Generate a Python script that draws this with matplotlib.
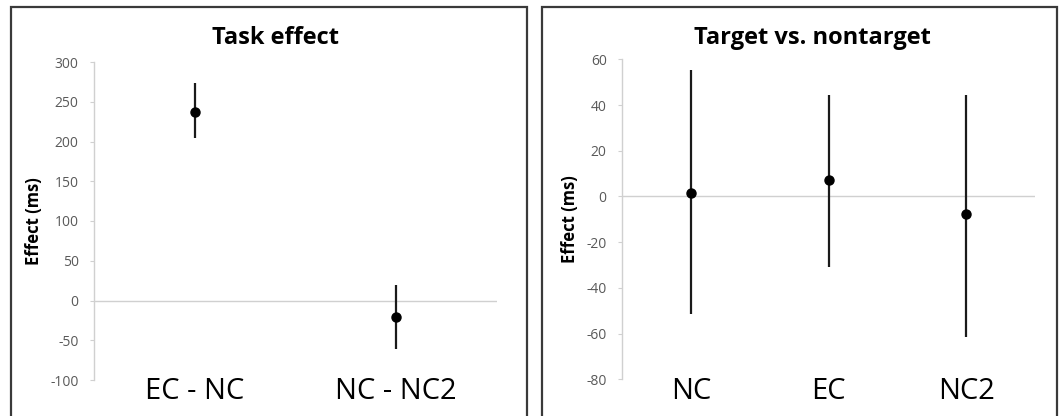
import matplotlib
matplotlib.use("Agg")
import matplotlib.pyplot as plt
from matplotlib.patches import Rectangle

# Task effect panel
task_labels = ["EC - NC", "NC - NC2"]
task_mean = [237, -21]
task_lo = [205, -61]
task_hi = [273, 20]

# Target vs. nontarget panel
tn_labels = ["NC", "EC", "NC2"]
tn_mean = [1.5, 7.2, -7.7]
tn_lo = [-51.5, -31, -61.4]
tn_hi = [55.4, 44.5, 44.5]

plt.rcParams.update({
    "font.family": ["Open Sans", "DejaVu Sans"],
})

W, H = 1059, 416
fig = plt.figure(figsize=(W / 100, H / 100), dpi=100)

# panel frames (pixel coords -> figure fraction)
for x0, x1 in [(11, 527), (542, 1057)]:
    fig.patches.append(Rectangle((x0 / W, -0.02), (x1 - x0) / W, (H - 7) / H + 0.02,
                                 transform=fig.transFigure, fill=False,
                                 edgecolor="#3a3a3a", linewidth=1.6))


def panel(rect, labels, mean, lo, hi, ylim, yticks, title, title_x):
    ax = fig.add_axes(rect)
    xs = list(range(len(labels)))
    yerr = [[m - l for m, l in zip(mean, lo)], [h - m for m, h in zip(mean, hi)]]
    ax.errorbar(xs, mean, yerr=yerr, fmt="o", color="black", ecolor="#1a1a1a",
                elinewidth=1.6, capsize=0, markersize=6.5, zorder=3)
    ax.axhline(0, color="#d0d0d0", linewidth=1.0, zorder=1)
    ax.set_xlim(-0.5, len(labels) - 0.5)
    ax.set_ylim(*ylim)
    ax.set_yticks(yticks)
    ax.set_yticklabels([str(t) for t in yticks], fontsize=10, color="#595959")
    ax.set_xticks(xs)
    ax.set_xticklabels(labels, fontsize=21, color="black")
    ax.tick_params(axis="x", length=0, pad=-2)
    ax.tick_params(axis="y", length=3, color="#d0d0d0", pad=8)
    for s in ["top", "right", "bottom"]:
        ax.spines[s].set_visible(False)
    ax.spines["left"].set_color("#d0d0d0")
    ax.spines["left"].set_linewidth(1.0)
    ax.set_ylabel("Effect (ms)", fontsize=12, fontweight="bold", labelpad=5)
    fig.text(title_x / W, 1 - 38 / H, title, fontsize=17, fontweight="bold",
             ha="center", va="center")
    return ax


panel([94 / W, (H - 380) / H, 403 / W, 318 / H], task_labels, task_mean,
      task_lo, task_hi, (-100, 300), list(range(-100, 301, 50)), "Task effect", 276)
panel([622 / W, (H - 379.3) / H, 413 / W, 320 / H], tn_labels, tn_mean,
      tn_lo, tn_hi, (-80, 60), list(range(-80, 61, 20)), "Target vs. nontarget", 812)

fig.savefig("out.png", dpi=100)
